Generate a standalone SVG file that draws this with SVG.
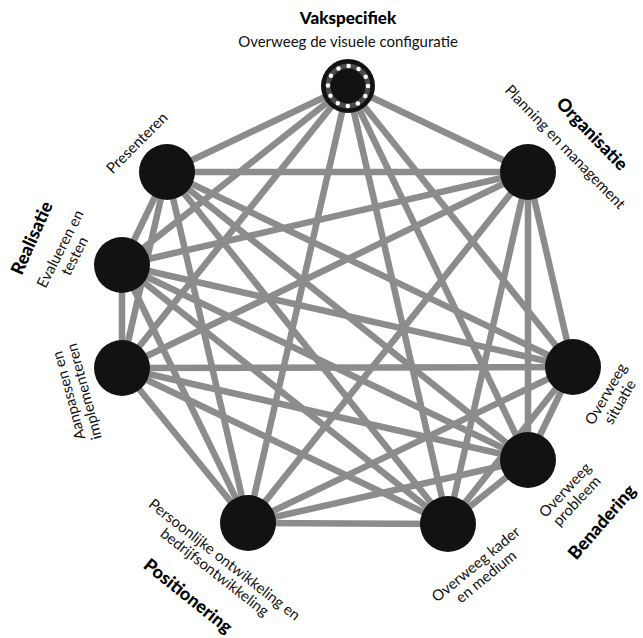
<svg xmlns="http://www.w3.org/2000/svg" width="643" height="638" viewBox="0 0 643 638">
<style>
.edge{stroke:#8c8c8c;stroke-width:6.5;fill:none}
.node{fill:#121212}
.lbl{font-family:Lato,"Open Sans","Liberation Sans",sans-serif;font-size:15px;fill:#111;text-anchor:middle}
.hdr{font-family:Lato,"Open Sans","Liberation Sans",sans-serif;font-size:18px;font-weight:900;fill:#000;text-anchor:middle}
</style>
<rect width="643" height="638" fill="#fff"/>
<g id="connectors">
<line class="edge" x1="348" y1="86" x2="528" y2="172"/>
<line class="edge" x1="348" y1="86" x2="573" y2="367"/>
<line class="edge" x1="348" y1="86" x2="528" y2="460"/>
<line class="edge" x1="348" y1="86" x2="448" y2="524"/>
<line class="edge" x1="348" y1="86" x2="248" y2="523"/>
<line class="edge" x1="348" y1="86" x2="122" y2="368"/>
<line class="edge" x1="348" y1="86" x2="122" y2="265"/>
<line class="edge" x1="348" y1="86" x2="167" y2="172"/>
<line class="edge" x1="528" y1="172" x2="573" y2="367"/>
<line class="edge" x1="528" y1="172" x2="528" y2="460"/>
<line class="edge" x1="528" y1="172" x2="448" y2="524"/>
<line class="edge" x1="528" y1="172" x2="248" y2="523"/>
<line class="edge" x1="528" y1="172" x2="122" y2="368"/>
<line class="edge" x1="528" y1="172" x2="122" y2="265"/>
<line class="edge" x1="528" y1="172" x2="167" y2="172"/>
<line class="edge" x1="573" y1="367" x2="528" y2="460"/>
<line class="edge" x1="573" y1="367" x2="448" y2="524"/>
<line class="edge" x1="573" y1="367" x2="248" y2="523"/>
<line class="edge" x1="573" y1="367" x2="122" y2="368"/>
<line class="edge" x1="573" y1="367" x2="122" y2="265"/>
<line class="edge" x1="573" y1="367" x2="167" y2="172"/>
<line class="edge" x1="528" y1="460" x2="448" y2="524"/>
<line class="edge" x1="528" y1="460" x2="248" y2="523"/>
<line class="edge" x1="528" y1="460" x2="122" y2="368"/>
<line class="edge" x1="528" y1="460" x2="122" y2="265"/>
<line class="edge" x1="528" y1="460" x2="167" y2="172"/>
<line class="edge" x1="448" y1="524" x2="248" y2="523"/>
<line class="edge" x1="448" y1="524" x2="122" y2="368"/>
<line class="edge" x1="448" y1="524" x2="122" y2="265"/>
<line class="edge" x1="448" y1="524" x2="167" y2="172"/>
<line class="edge" x1="248" y1="523" x2="122" y2="368"/>
<line class="edge" x1="248" y1="523" x2="122" y2="265"/>
<line class="edge" x1="248" y1="523" x2="167" y2="172"/>
<line class="edge" x1="122" y1="368" x2="122" y2="265"/>
<line class="edge" x1="122" y1="368" x2="167" y2="172"/>
<line class="edge" x1="122" y1="265" x2="167" y2="172"/>
</g>
<g id="vakspecifiek">
<circle class="node" cx="348" cy="86" r="27"/>
<circle cx="348" cy="86" r="20" fill="none" stroke="#4a4a4a" stroke-width="5"/>
<circle cx="348" cy="86" r="20" fill="none" stroke="#fff" stroke-width="4.5" stroke-linecap="round" stroke-dasharray="0 10.472"/>
<text class="hdr" x="348" y="24" style="font-size:17px">Vakspecifiek</text>
<text class="lbl" x="348" y="47">Overweeg de visuele configuratie</text>
</g>
<g id="organisatie">
<circle class="node" cx="528" cy="172" r="28"/>
<text class="hdr" transform="translate(592,134) rotate(46)" y="6">Organisatie</text>
<text class="lbl" transform="translate(565,147) rotate(46)" y="5">Planning en management</text>
</g>
<g id="situatie">
<circle class="node" cx="573" cy="367" r="28"/>
<g transform="translate(613,398) rotate(-60)">
<text class="lbl" y="-3">Overweeg</text>
<text class="lbl" y="13">situatie</text>
</g>
</g>
<g id="probleem">
<circle class="node" cx="528" cy="460" r="28"/>
<g transform="translate(571,495.5) rotate(-47)">
<text class="lbl" y="-3">Overweeg</text>
<text class="lbl" y="13">probleem</text>
</g>
<text class="hdr" transform="translate(602,522) rotate(-49)" y="6">Benadering</text>
</g>
<g id="kader">
<circle class="node" cx="448" cy="524" r="28"/>
<g transform="translate(481,570.5) rotate(-39.5)">
<text class="lbl" y="-3">Overweeg kader</text>
<text class="lbl" y="13">en medium</text>
</g>
</g>
<g id="persoonlijk">
<circle class="node" cx="248" cy="523" r="28"/>
<g transform="translate(219.5,566) rotate(38)">
<text class="lbl" y="-3">Persoonlijke ontwikkeling en</text>
<text class="lbl" y="13">bedrijfsontwikkeling</text>
</g>
<text class="hdr" transform="translate(188,596) rotate(38.6)" y="6">Positionering</text>
</g>
<g id="aanpassen">
<circle class="node" cx="122" cy="368" r="28"/>
<g transform="translate(76.5,393.5) rotate(-105)">
<text class="lbl" y="-3">Aanpassen en</text>
<text class="lbl" y="13">implementeren</text>
</g>
</g>
<g id="evalueren">
<circle class="node" cx="122" cy="265" r="28"/>
<g transform="translate(67.5,252.5) rotate(-63)">
<text class="lbl" y="-3">Evalueren en</text>
<text class="lbl" y="13">testen</text>
</g>
<text class="hdr" transform="translate(32,238) rotate(-66)" y="6">Realisatie</text>
</g>
<g id="presenteren">
<circle class="node" cx="167" cy="172" r="28"/>
<text class="lbl" transform="translate(137,143) rotate(-45)" y="5">Presenteren</text>
</g>
</svg>
